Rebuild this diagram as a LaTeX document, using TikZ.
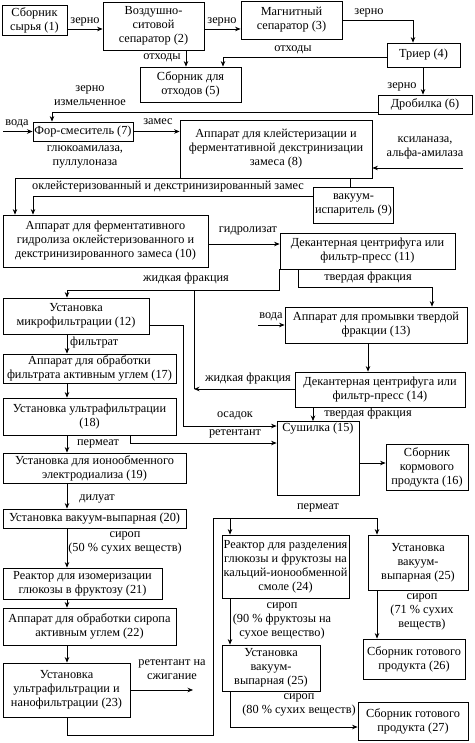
\documentclass[tikz,border=0pt]{standalone}
\usepackage{fontspec}
\setmainfont{Liberation Serif}
\newfontfamily\pffont{Liberation Serif}
\usetikzlibrary{arrows.meta,positioning}
\tikzset{
  pf box/.style={draw=black, line width=.8pt, fill=white, align=center,
    inner sep=1.5pt, font=\pffont\fontsize{12.3}{14}\selectfont},
  pf line/.style={draw=black, line width=.7pt},
  pf arrow/.style={pf line, -{Stealth[length=5.5pt,width=4.5pt]}},
  pf label/.style={align=center, inner sep=0pt, font=\pffont\fontsize{12.3}{14}\selectfont}
}
\begin{document}
\begin{tikzpicture}[x=1pt,y=-1pt]
  \useasboundingbox[fill=white] (0,0) rectangle (474,743);

  % boxes
  \node[pf box, minimum width=65, minimum height=30] (n1) at (34.5,20) {Сборник\\сырья (1)};
  \node[pf box, minimum width=101, minimum height=48] (n2) at (153.5,26) {Воздушно-\\ситовой\\сепаратор (2)};
  \node[pf box, minimum width=101, minimum height=38] (n3) at (291.5,20) {Магнитный\\сепаратор (3)};
  \node[pf box, minimum width=73, minimum height=24] (n4) at (423.5,55) {Триер (4)};
  \node[pf box, minimum width=101, minimum height=35] (n5) at (190.5,84.5) {Сборник для\\отходов (5)};
  \node[pf box, minimum width=94, minimum height=19] (n6) at (425,104.5) {Дробилка (6)};
  \node[pf box, minimum width=100, minimum height=19] (n7) at (83,131.5) {Фор-смеситель (7)};
  \node[pf box, minimum width=192, minimum height=58] (n8) at (276,149) {Аппарат для клейстеризации и\\ферментативной декстринизации\\замеса (8)};
  \node[pf box, minimum width=73, minimum height=36] (n9) at (353.5,205) {вакуум-\\испаритель (9)};
  \node[pf box, minimum width=205, minimum height=52] (n10) at (105.5,241) {Аппарат для ферментативного\\гидролиза оклейстеризованного и\\декстринизированного замеса (10)};
  \node[pf box, minimum width=175, minimum height=36] (n11) at (367.5,251) {Декантерная центрифуга или\\фильтр-пресс (11)};
  \node[pf box, minimum width=146, minimum height=36] (n12) at (76,316) {Установка\\микрофильтрации (12)};
  \node[pf box, minimum width=182, minimum height=36] (n13) at (376,325) {Аппарат для промывки твердой\\фракции (13)};
  \node[pf box, minimum width=170, minimum height=35] (n14) at (380,389.5) {Декантерная центрифуга или\\фильтр-пресс (14)};
  \node[pf box, minimum width=82, text depth=62, anchor=north] (n15) at (318,421) {Сушилка (15)};
  \node[pf box, minimum width=82, minimum height=46] (n16) at (427,467) {Сборник\\кормового\\продукта (16)};
  \node[pf box, minimum width=173, minimum height=29] (n17) at (89.5,368.5) {Аппарат для обработки\\фильтрата активным углем (17)};
  \node[pf box, minimum width=173, minimum height=37] (n18) at (89.5,416.5) {Установка ультрафильтрации\\(18)};
  \node[pf box, minimum width=183, minimum height=30] (n19) at (94.5,468) {Установка для ионообменного\\электродиализа (19)};
  \node[pf box, minimum width=183, minimum height=19] (n20) at (94.5,518.5) {Установка вакуум-выпарная (20)};
  \node[pf box, minimum width=159, minimum height=31] (n21) at (82.5,583.5) {Реактор для изомеризации\\глюкозы в фруктозу (21)};
  \node[pf box, minimum width=173, minimum height=37] (n22) at (89.5,626.5) {Аппарат для обработки сиропа\\активным углем (22)};
  \node[pf box, minimum width=127, minimum height=54] (n23) at (66.5,690) {Установка\\ультрафильтрации и\\нанофильтрации (23)};
  \node[pf box, minimum width=127, minimum height=63] (n24) at (285.5,566.5) {Реактор для разделения\\глюкозы и фруктозы на\\кальций-ионообменной\\смоле (24)};
  \node[pf box, minimum width=100, minimum height=55] (n25a) at (418,562.5) {Установка\\вакуум-\\выпарная (25)};
  \node[pf box, minimum width=98, minimum height=46] (n25b) at (271,668) {Установка\\вакуум-\\выпарная (25)};
  \node[pf box, minimum width=102, minimum height=40] (n26) at (414,659) {Сборник готового\\продукта (26)};
  \node[pf box, minimum width=110, minimum height=38] (n27) at (413,721) {Сборник готового\\продукта (27)};

  % free ends
  \coordinate (in7) at (3,131.5);
  \coordinate (in8) at (463,168);
  \coordinate (in13) at (258,325);
  \coordinate (out23) at (193,690);
  \coordinate (j14) at (194,389);
  \coordinate (jp) at (213,518);

  % connectors
  \draw[pf arrow] (n1.east |- 0,29) -- (n2.west |- 0,29);
  \draw[pf arrow] (n2.east |- 0,29) -- (n3.west |- 0,29);
  \draw[pf arrow] (n3.east |- 0,20) -| (n4.north -| 413,0);
  \draw[pf arrow] (n4.west |- 0,57) -| (n5.north -| 223,0);
  \draw[pf arrow] (n2.south -| 186,0) -- (n5.north -| 186,0);
  \draw[pf arrow] (n4.south -| 423,0) -- (n6.north -| 423,0);
  \draw[pf arrow] (n6.west |- 0,112) -| (n7.north -| 52,0);
  \draw[pf arrow] (in7) -- (n7.west);
  \draw[pf arrow] (n7.east) -- (n8.west |- n7.east);
  \draw[pf arrow] (in8) -- (n8.east |- in8);
  \draw[pf line] (n8.south -| 350,0) -- (n9.north -| 350,0);
  \draw[pf arrow] (n8.south west) -| (n10.north -| 15,0);
  \draw[pf arrow] (n9.west |- 0,196) -| (n10.north -| 33,0);
  \draw[pf arrow] (n10.east |- 0,244) -- (n11.west |- 0,244);
  \draw[pf arrow] (n11.south west) -- ++(0,21) -| (n12.north -| 67,0);
  \draw[pf arrow] (n11.south -| 298,0) -- ++(0,18) -| (n13.north -| 432,0);
  \draw[pf arrow] (in13) -- (n13.west |- in13);
  \draw[pf arrow] (n13.south -| 368,0) -- (n14.north -| 368,0);
  \draw[pf arrow] (n14.west |- j14) -- (j14);
  \draw[pf line] (j14) -- ++(0,-99);
  \draw[pf arrow] (n14.south -| 313,0) -- (n15.north -| 313,0);
  \draw[pf arrow] (n12.east |- 0,325) -- ++(34,0) |- (n15.west |- 0,426);
  \draw[pf arrow] (n18.south -| 130,0) |- (n15.west |- 0,443);
  \draw[pf arrow] (n15.east |- 0,463) -- (n16.west |- 0,463);
  \foreach \a/\b in {n12/n17,n17/n18,n18/n19,n19/n20,n20/n21,n21/n22,n22/n23}
    \draw[pf arrow] (\a.south -| 67,0) -- (\b.north -| 67,0);
  \draw[pf arrow] (n23.east |- out23) -- (out23);
  \draw[pf line] (n23.south -| 67,0) -- ++(0,18) -| (jp) -- (jp -| 377,0);
  \draw[pf arrow] (jp -| 230,0) -- (n24.north -| 230,0);
  \draw[pf arrow] (jp -| 377,0) -- (n25a.north -| 377,0);
  \draw[pf arrow] (n24.south -| 230,0) -- (n25b.north -| 230,0);
  \draw[pf arrow] (n25a.south -| 377,0) -- (n26.north -| 377,0);
  \draw[pf arrow] (n25b.south -| 230,0) |- (n27.west |- 0,727);

  % labels
  \node[pf label] (l1) at (85,22) {зерно};
  \node[pf label] (l2) at (222,22) {зерно};
  \node[pf label] (l3) at (369,13) {зерно};
  \node[pf label] (l4) at (293,50) {отходы};
  \node[pf label] (l5) at (162,58) {отходы};
  \node[pf label] (l6) at (402,87) {зерно};
  \node[pf label] (l7) at (90,96) {зерно\\измельченное};
  \node[pf label] (l8) at (17,124) {вода};
  \node[pf label] (l9) at (158,122) {замес};
  \node[pf label] (l10) at (85,157) {глюкоамилаза,\\пуллулоназа};
  \node[pf label] (l11) at (425,148) {ксиланаза,\\альфа-амилаза};
  \node[pf label] (l12) at (168,187) {оклейстеризованный и декстринизированный замес};
  \node[pf label] (l13) at (248,231) {гидролизат};
  \node[pf label] (l14) at (186,279) {жидкая фракция};
  \node[pf label] (l15) at (368,278) {твердая фракция};
  \node[pf label] (l16) at (271,317) {вода};
  \node[pf label, anchor=west] (l17) at (70,343) {фильтрат};
  \node[pf label] (l18) at (248,379) {жидкая фракция};
  \node[pf label] (l19) at (235,416) {осадок};
  \node[pf label] (l20) at (368,414) {твердая фракция};
  \node[pf label] (l21) at (235,434) {ретентант};
  \node[pf label] (l22) at (98,444) {пермеат};
  \node[pf label] (l23) at (97,499) {дилуат};
  \node[pf label] (l24) at (125,543) {сироп\\(50 \% сухих веществ)};
  \node[pf label] (l25) at (172,670) {ретентант на\\сжигание};
  \node[pf label] (l26) at (318,508) {пермеат};
  \node[pf label] (l27) at (282,621) {сироп\\(90 \% фруктозы на\\сухое вещество)};
  \node[pf label] (l28) at (422,612) {сироп\\(71 \% сухих\\веществ)};
  \node[pf label] (l29) at (299,705) {сироп\\(80 \% сухих веществ)};
\end{tikzpicture}
\end{document}
